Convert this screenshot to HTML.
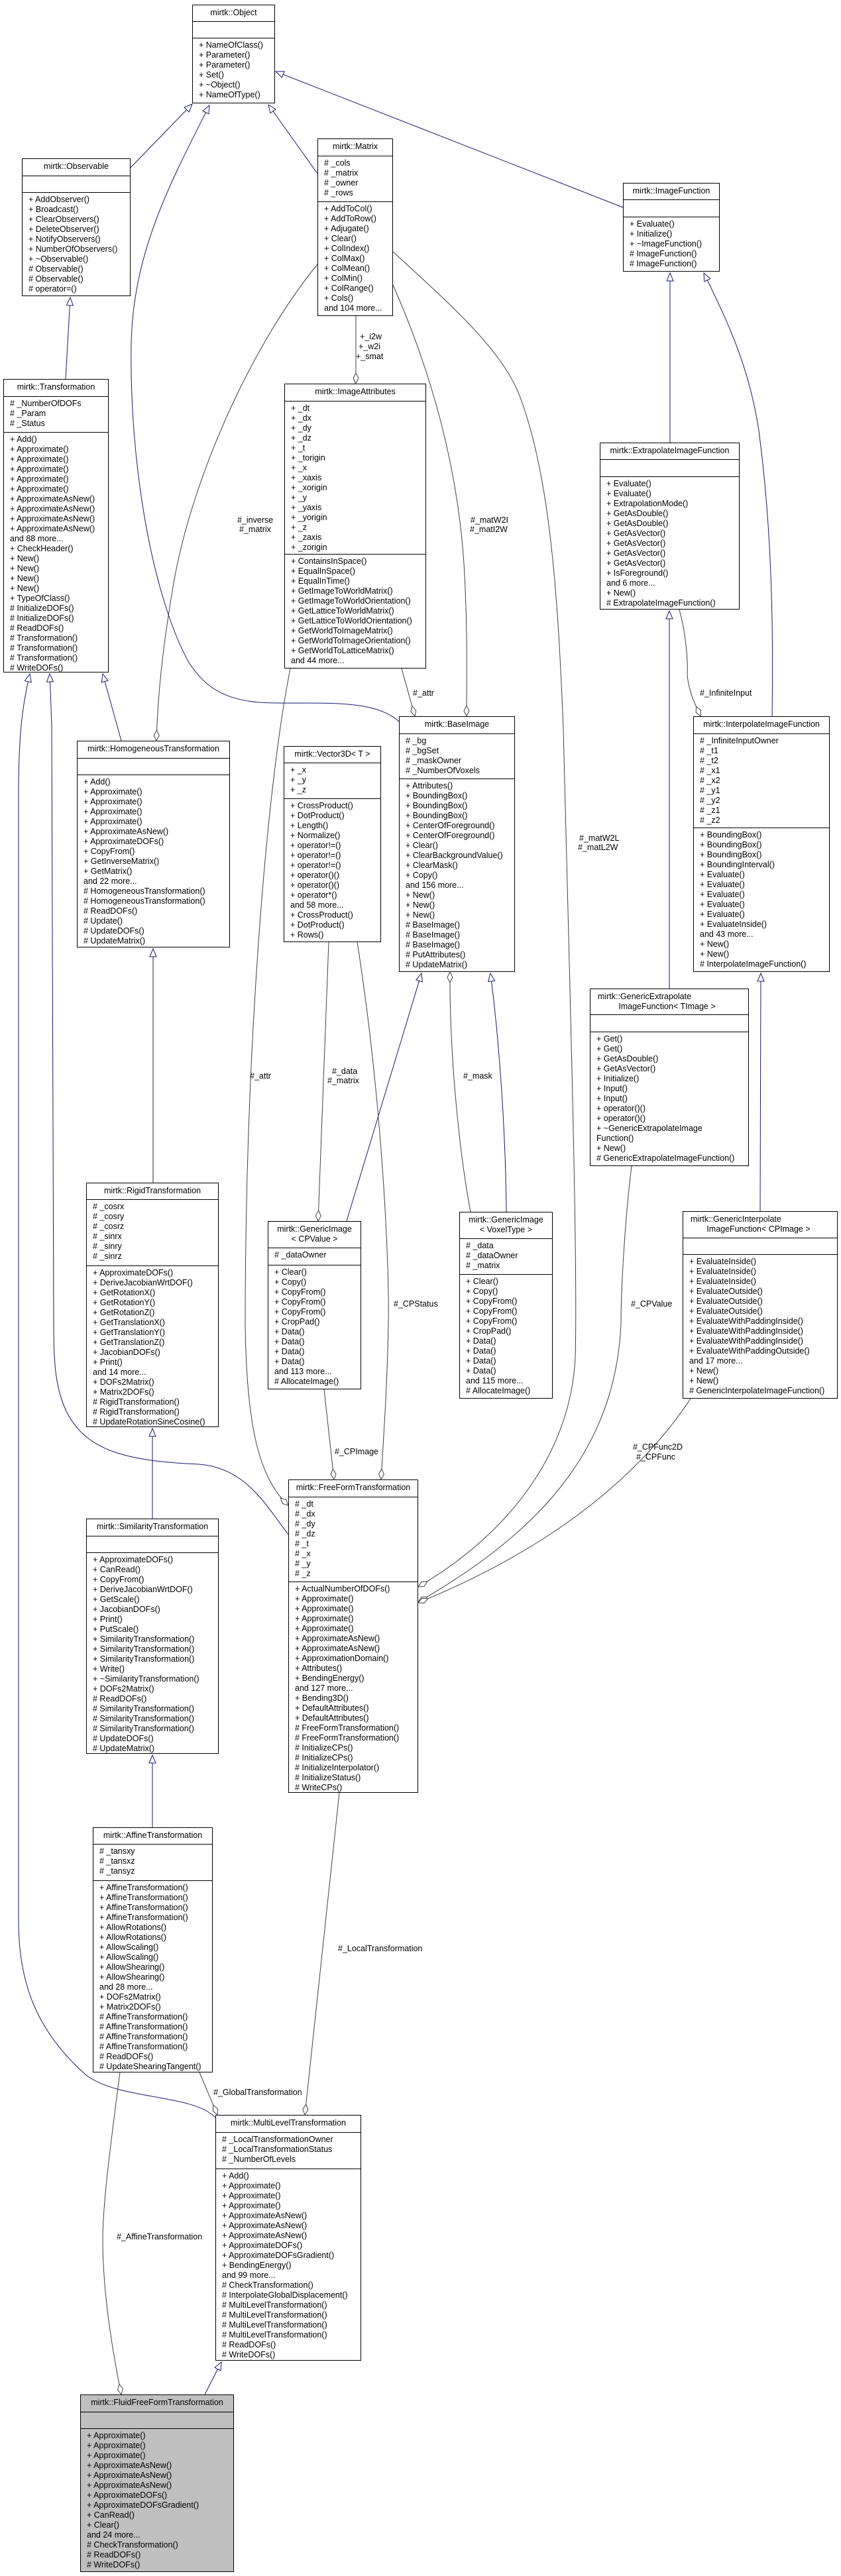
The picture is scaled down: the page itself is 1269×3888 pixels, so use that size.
<!DOCTYPE html>
<html><head><meta charset="utf-8">
<style>
html,body{margin:0;padding:0;background:#fff;}
body{width:1269px;height:3888px;position:relative;overflow:hidden;font-family:"Liberation Sans",Arial,sans-serif;font-size:12.5px;color:#000;}
.b{position:absolute;box-sizing:border-box;border:1px solid #000;background:#fff;}
.b>div{box-sizing:border-box;overflow:hidden;white-space:pre;line-height:15px;}
.t{border-bottom:1px solid #000;text-align:center;padding-top:4px;}
.a{border-bottom:1px solid #000;padding:3px 0 0 9px;}
.m{padding:3px 0 0 9px;}
svg{position:absolute;left:0;top:0;}
svg text{font-family:"Liberation Sans",Arial,sans-serif;font-size:12.5px;fill:#000;}
</style></head><body>

<div class="b" style="left:290px;top:7px;width:125px;height:149px">
<div class="t" style="height:25px">mirtk::Object</div>
<div class="a" style="height:25px"></div>
<div class="m">+ NameOfClass()
+ Parameter()
+ Parameter()
+ Set()
+ ~Object()
+ NameOfType()</div></div>

<div class="b" style="left:33px;top:239px;width:164px;height:208px">
<div class="t" style="height:26px">mirtk::Observable</div>
<div class="a" style="height:25px"></div>
<div class="m">+ AddObserver()
+ Broadcast()
+ ClearObservers()
+ DeleteObserver()
+ NotifyObservers()
+ NumberOfObservers()
+ ~Observable()
# Observable()
# Observable()
# operator=()</div></div>

<div class="b" style="left:479px;top:209px;width:114px;height:268px">
<div class="t" style="height:26px">mirtk::Matrix</div>
<div class="a" style="height:69px"># _cols
# _matrix
# _owner
# _rows</div>
<div class="m">+ AddToCol()
+ AddToRow()
+ Adjugate()
+ Clear()
+ ColIndex()
+ ColMax()
+ ColMean()
+ ColMin()
+ ColRange()
+ Cols()
and 104 more...</div></div>

<div class="b" style="left:940px;top:276px;width:146px;height:134px">
<div class="t" style="height:25px">mirtk::ImageFunction</div>
<div class="a" style="height:26px"></div>
<div class="m">+ Evaluate()
+ Initialize()
+ ~ImageFunction()
# ImageFunction()
# ImageFunction()</div></div>

<div class="b" style="left:5px;top:572px;width:159px;height:443px">
<div class="t" style="height:26px">mirtk::Transformation</div>
<div class="a" style="height:54px"># _NumberOfDOFs
# _Param
# _Status</div>
<div class="m">+ Add()
+ Approximate()
+ Approximate()
+ Approximate()
+ Approximate()
+ Approximate()
+ ApproximateAsNew()
+ ApproximateAsNew()
+ ApproximateAsNew()
+ ApproximateAsNew()
and 88 more...
+ CheckHeader()
+ New()
+ New()
+ New()
+ New()
+ TypeOfClass()
# InitializeDOFs()
# InitializeDOFs()
# ReadDOFs()
# Transformation()
# Transformation()
# Transformation()
# WriteDOFs()</div></div>

<div class="b" style="left:429px;top:579px;width:214px;height:430px">
<div class="t" style="height:26px">mirtk::ImageAttributes</div>
<div class="a" style="height:231px">+ _dt
+ _dx
+ _dy
+ _dz
+ _t
+ _torigin
+ _x
+ _xaxis
+ _xorigin
+ _y
+ _yaxis
+ _yorigin
+ _z
+ _zaxis
+ _zorigin</div>
<div class="m">+ ContainsInSpace()
+ EqualInSpace()
+ EqualInTime()
+ GetImageToWorldMatrix()
+ GetImageToWorldOrientation()
+ GetLatticeToWorldMatrix()
+ GetLatticeToWorldOrientation()
+ GetWorldToImageMatrix()
+ GetWorldToImageOrientation()
+ GetWorldToLatticeMatrix()
and 44 more...</div></div>

<div class="b" style="left:905px;top:668px;width:211px;height:252px">
<div class="t" style="height:25px">mirtk::ExtrapolateImageFunction</div>
<div class="a" style="height:26px"></div>
<div class="m">+ Evaluate()
+ Evaluate()
+ ExtrapolationMode()
+ GetAsDouble()
+ GetAsDouble()
+ GetAsVector()
+ GetAsVector()
+ GetAsVector()
+ GetAsVector()
+ IsForeground()
and 6 more...
+ New()
# ExtrapolateImageFunction()</div></div>

<div class="b" style="left:116px;top:1118px;width:231px;height:312px">
<div class="t" style="height:26px">mirtk::HomogeneousTransformation</div>
<div class="a" style="height:25px"></div>
<div class="m">+ Add()
+ Approximate()
+ Approximate()
+ Approximate()
+ Approximate()
+ ApproximateAsNew()
+ ApproximateDOFs()
+ CopyFrom()
+ GetInverseMatrix()
+ GetMatrix()
and 22 more...
# HomogeneousTransformation()
# HomogeneousTransformation()
# ReadDOFs()
# Update()
# UpdateDOFs()
# UpdateMatrix()</div></div>

<div class="b" style="left:428px;top:1126px;width:147px;height:296px">
<div class="t" style="height:25px">mirtk::Vector3D&lt; T &gt;</div>
<div class="a" style="height:54px">+ _x
+ _y
+ _z</div>
<div class="m">+ CrossProduct()
+ DotProduct()
+ Length()
+ Normalize()
+ operator!=()
+ operator!=()
+ operator!=()
+ operator()()
+ operator()()
+ operator*()
and 58 more...
+ CrossProduct()
+ DotProduct()
+ Rows()</div></div>

<div class="b" style="left:602px;top:1081px;width:175px;height:386px">
<div class="t" style="height:26px">mirtk::BaseImage</div>
<div class="a" style="height:68px"># _bg
# _bgSet
# _maskOwner
# _NumberOfVoxels</div>
<div class="m">+ Attributes()
+ BoundingBox()
+ BoundingBox()
+ BoundingBox()
+ CenterOfForeground()
+ CenterOfForeground()
+ Clear()
+ ClearBackgroundValue()
+ ClearMask()
+ Copy()
and 156 more...
+ New()
+ New()
+ New()
# BaseImage()
# BaseImage()
# BaseImage()
# PutAttributes()
# UpdateMatrix()</div></div>

<div class="b" style="left:1046px;top:1081px;width:206px;height:386px">
<div class="t" style="height:26px">mirtk::InterpolateImageFunction</div>
<div class="a" style="height:142px"># _InfiniteInputOwner
# _t1
# _t2
# _x1
# _x2
# _y1
# _y2
# _z1
# _z2</div>
<div class="m">+ BoundingBox()
+ BoundingBox()
+ BoundingBox()
+ BoundingInterval()
+ Evaluate()
+ Evaluate()
+ Evaluate()
+ Evaluate()
+ Evaluate()
+ EvaluateInside()
and 43 more...
+ New()
+ New()
# InterpolateImageFunction()</div></div>

<div class="b" style="left:890px;top:1492px;width:240px;height:268px">
<div class="t" style="height:39px;text-align:left;padding-left:11px;padding-top:4px">mirtk::GenericExtrapolate
         ImageFunction&lt; TImage &gt;</div>
<div class="a" style="height:26px"></div>
<div class="m">+ Get()
+ Get()
+ GetAsDouble()
+ GetAsVector()
+ Initialize()
+ Input()
+ Input()
+ operator()()
+ operator()()
+ ~GenericExtrapolateImage
Function()
+ New()
# GenericExtrapolateImageFunction()</div></div>

<div class="b" style="left:130px;top:1785px;width:200px;height:369px">
<div class="t" style="height:25px">mirtk::RigidTransformation</div>
<div class="a" style="height:100px"># _cosrx
# _cosry
# _cosrz
# _sinrx
# _sinry
# _sinrz</div>
<div class="m">+ ApproximateDOFs()
+ DeriveJacobianWrtDOF()
+ GetRotationX()
+ GetRotationY()
+ GetRotationZ()
+ GetTranslationX()
+ GetTranslationY()
+ GetTranslationZ()
+ JacobianDOFs()
+ Print()
and 14 more...
+ DOFs2Matrix()
+ Matrix2DOFs()
# RigidTransformation()
# RigidTransformation()
# UpdateRotationSineCosine()</div></div>

<div class="b" style="left:404px;top:1843px;width:141px;height:254px">
<div class="t" style="height:40px">mirtk::GenericImage
&lt; CPValue &gt;</div>
<div class="a" style="height:26px"># _dataOwner</div>
<div class="m">+ Clear()
+ Copy()
+ CopyFrom()
+ CopyFrom()
+ CopyFrom()
+ CropPad()
+ Data()
+ Data()
+ Data()
+ Data()
and 113 more...
# AllocateImage()</div></div>

<div class="b" style="left:693px;top:1829px;width:141px;height:282px">
<div class="t" style="height:40px">mirtk::GenericImage
&lt; VoxelType &gt;</div>
<div class="a" style="height:54px"># _data
# _dataOwner
# _matrix</div>
<div class="m">+ Clear()
+ Copy()
+ CopyFrom()
+ CopyFrom()
+ CopyFrom()
+ CropPad()
+ Data()
+ Data()
+ Data()
+ Data()
and 115 more...
# AllocateImage()</div></div>

<div class="b" style="left:1030px;top:1828px;width:234px;height:283px">
<div class="t" style="height:40px;text-align:left;padding-left:11px">mirtk::GenericInterpolate
       ImageFunction&lt; CPImage &gt;</div>
<div class="a" style="height:25px"></div>
<div class="m">+ EvaluateInside()
+ EvaluateInside()
+ EvaluateInside()
+ EvaluateOutside()
+ EvaluateOutside()
+ EvaluateOutside()
+ EvaluateWithPaddingInside()
+ EvaluateWithPaddingInside()
+ EvaluateWithPaddingInside()
+ EvaluateWithPaddingOutside()
and 17 more...
+ New()
+ New()
# GenericInterpolateImageFunction()</div></div>

<div class="b" style="left:435px;top:2233px;width:196px;height:473px">
<div class="t" style="height:26px">mirtk::FreeFormTransformation</div>
<div class="a" style="height:128px"># _dt
# _dx
# _dy
# _dz
# _t
# _x
# _y
# _z</div>
<div class="m">+ ActualNumberOfDOFs()
+ Approximate()
+ Approximate()
+ Approximate()
+ Approximate()
+ ApproximateAsNew()
+ ApproximateAsNew()
+ ApproximationDomain()
+ Attributes()
+ BendingEnergy()
and 127 more...
+ Bending3D()
+ DefaultAttributes()
+ DefaultAttributes()
# FreeFormTransformation()
# FreeFormTransformation()
# InitializeCPs()
# InitializeCPs()
# InitializeInterpolator()
# InitializeStatus()
# WriteCPs()</div></div>

<div class="b" style="left:130px;top:2292px;width:200px;height:355px">
<div class="t" style="height:26px">mirtk::SimilarityTransformation</div>
<div class="a" style="height:25px"></div>
<div class="m">+ ApproximateDOFs()
+ CanRead()
+ CopyFrom()
+ DeriveJacobianWrtDOF()
+ GetScale()
+ JacobianDOFs()
+ Print()
+ PutScale()
+ SimilarityTransformation()
+ SimilarityTransformation()
+ SimilarityTransformation()
+ Write()
+ ~SimilarityTransformation()
+ DOFs2Matrix()
# ReadDOFs()
# SimilarityTransformation()
# SimilarityTransformation()
# SimilarityTransformation()
# UpdateDOFs()
# UpdateMatrix()</div></div>

<div class="b" style="left:140px;top:2758px;width:181px;height:370px">
<div class="t" style="height:25px">mirtk::AffineTransformation</div>
<div class="a" style="height:55px"># _tansxy
# _tansxz
# _tansyz</div>
<div class="m">+ AffineTransformation()
+ AffineTransformation()
+ AffineTransformation()
+ AffineTransformation()
+ AllowRotations()
+ AllowRotations()
+ AllowScaling()
+ AllowScaling()
+ AllowShearing()
+ AllowShearing()
and 28 more...
+ DOFs2Matrix()
+ Matrix2DOFs()
# AffineTransformation()
# AffineTransformation()
# AffineTransformation()
# AffineTransformation()
# ReadDOFs()
# UpdateShearingTangent()</div></div>

<div class="b" style="left:325px;top:3192px;width:220px;height:371px">
<div class="t" style="height:26px">mirtk::MultiLevelTransformation</div>
<div class="a" style="height:55px"># _LocalTransformationOwner
# _LocalTransformationStatus
# _NumberOfLevels</div>
<div class="m">+ Add()
+ Approximate()
+ Approximate()
+ Approximate()
+ ApproximateAsNew()
+ ApproximateAsNew()
+ ApproximateAsNew()
+ ApproximateDOFs()
+ ApproximateDOFsGradient()
+ BendingEnergy()
and 99 more...
# CheckTransformation()
# InterpolateGlobalDisplacement()
# MultiLevelTransformation()
# MultiLevelTransformation()
# MultiLevelTransformation()
# MultiLevelTransformation()
# ReadDOFs()
# WriteDOFs()</div></div>

<div class="b" style="left:121px;top:3614px;width:232px;height:268px;background:#bfbfbf">
<div class="t" style="height:26px">mirtk::FluidFreeFormTransformation</div>
<div class="a" style="height:25px"></div>
<div class="m">+ Approximate()
+ Approximate()
+ Approximate()
+ ApproximateAsNew()
+ ApproximateAsNew()
+ ApproximateAsNew()
+ ApproximateDOFs()
+ ApproximateDOFsGradient()
+ CanRead()
+ Clear()
and 24 more...
# CheckTransformation()
# ReadDOFs()
# WriteDOFs()</div></div>

<svg width="1269" height="3888" viewBox="0 0 1269 3888">
<defs>
<marker id="tri" markerUnits="userSpaceOnUse" markerWidth="14" markerHeight="12" refX="12" refY="5" orient="auto" viewBox="-1 -1 14 12">
<path d="M0,0 L12,5 L0,10 z" fill="#fff" stroke="#191970" stroke-width="1"/></marker>
<marker id="dia" markerUnits="userSpaceOnUse" markerWidth="18" markerHeight="10" refX="16" refY="4" orient="auto" viewBox="-1 -1 18 10">
<path d="M0,4 L8,0 L16,4 L8,8 z" fill="#fff" stroke="#404040" stroke-width="1"/></marker>
</defs>
<g fill="none" stroke="#191970" stroke-width="1" marker-end="url(#tri)">
<path d="M197,253 L290,157"/>
<path d="M602,1089 C560,1050 460,1065 390,1060 C330,1055 305,1030 285,1000 C230,900 195,700 198,520 C200,380 260,270 316,159"/>
<path d="M479,262 L405,158"/>
<path d="M940,313 L416,108"/>
<path d="M99,572 L106,449"/>
<path d="M183,1118 L155,1017"/>
<path d="M325,3196 C290,3160 180,3170 130,3132 C60,3070 28,3000 28,2900 L28,1200 C28,1100 35,1060 45,1017"/>
<path d="M435,2316 C400,2270 370,2215 300,2210 C190,2205 130,2190 100,2130 C84,2095 81,2060 81,2000 L78,1100 C77,1060 76,1040 75,1017"/>
<path d="M231,1785 L231,1432"/>
<path d="M230,2292 L230,2156"/>
<path d="M230,2758 L230,2649"/>
<path d="M523,1843 L636,1469"/>
<path d="M764,1829 C763,1700 752,1560 740,1469"/>
<path d="M1011,668 L1011,412"/>
<path d="M1165,1081 C1167,950 1165,800 1145,650 C1130,550 1095,480 1062,412"/>
<path d="M1010,1492 L1010,922"/>
<path d="M1147,1828 L1148,1469"/>
<path d="M309,3614 L334,3565"/>
</g>
<g fill="none" stroke="#404040" stroke-width="1" marker-end="url(#dia)">
<path d="M537,477 L537,579"/>
<path d="M479,399 C380,520 290,720 262,880 C245,980 238,1050 236,1118"/>
<path d="M593,430 C650,560 690,700 700,850 C706,950 704,1020 704,1081"/>
<path d="M593,380 C680,460 760,530 785,600 C830,720 842,900 850,1100 C860,1500 872,1900 868,2050 C860,2200 760,2320 631,2395"/>
<path d="M606,1009 L626,1081"/>
<path d="M438,1009 C400,1200 370,1600 370,2000 C372,2150 390,2230 435,2272"/>
<path d="M496,1422 L480,1843"/>
<path d="M539,1422 C575,1650 588,1900 586,2000 C584,2100 578,2180 575,2233"/>
<path d="M710,1829 C695,1750 678,1600 679,1467"/>
<path d="M489,2097 L504,2233"/>
<path d="M1025,920 C1036,960 1038,1000 1037,1020 C1041,1050 1050,1065 1057,1081"/>
<path d="M953,1760 C942,1850 937,1950 937,2000 C927,2200 800,2320 631,2418"/>
<path d="M1042,2111 C950,2250 800,2350 631,2419"/>
<path d="M512,2706 L460,3192"/>
<path d="M301,3128 L328,3192"/>
<path d="M181,3128 C165,3250 155,3330 155,3380 C155,3460 170,3550 183,3614"/>
</g>
<text x="543" y="512">+_i2w</text>
<text x="541" y="527">+_w2i</text>
<text x="537" y="542">+_smat</text>
<text x="358" y="789">#_inverse</text>
<text x="361" y="803">#_matrix</text>
<text x="710" y="789">#_matW2I</text>
<text x="709" y="803">#_matI2W</text>
<text x="623" y="1050">#_attr</text>
<text x="1056" y="1050">#_InfiniteInput</text>
<text x="874" y="1269">#_matW2L</text>
<text x="872" y="1283">#_matL2W</text>
<text x="377" y="1628">#_attr</text>
<text x="501" y="1621">#_data</text>
<text x="494" y="1635">#_matrix</text>
<text x="699" y="1628">#_mask</text>
<text x="594" y="1972">#_CPStatus</text>
<text x="952" y="1972">#_CPValue</text>
<text x="505" y="2195">#_CPImage</text>
<text x="955" y="2188">#_CPFunc2D</text>
<text x="960" y="2203">#_CPFunc</text>
<text x="510" y="2945">#_LocalTransformation</text>
<text x="322" y="3162">#_GlobalTransformation</text>
<text x="176" y="3380">#_AffineTransformation</text>
</svg>
</body></html>
